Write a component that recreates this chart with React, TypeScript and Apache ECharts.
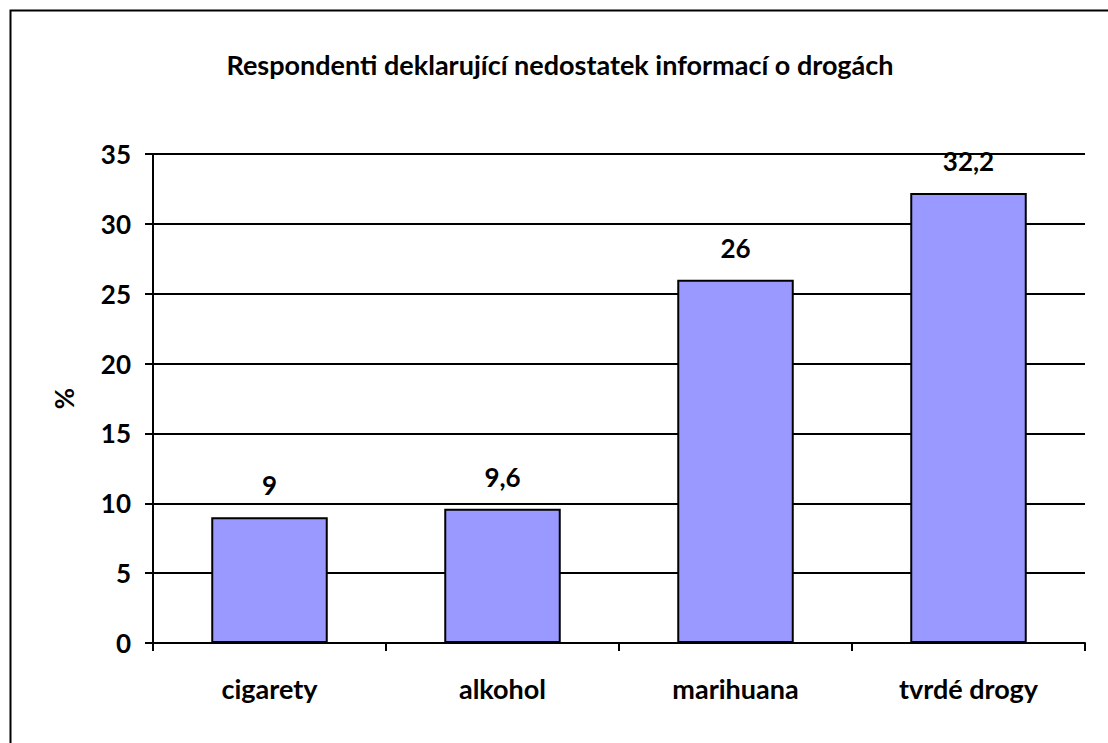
import React, { useEffect, useRef } from "react";
import * as echarts from "echarts";

const categories = ["cigarety", "alkohol", "marihuana", "tvrdé drogy"];
const values = [9, 9.6, 26, 32.2];
const titleText = "Respondenti deklarující nedostatek informací o drogách";
const yAxisName = "%";

const FONT = "Lato, 'Open Sans', sans-serif";

export default function App() {
  const ref = useRef<HTMLDivElement>(null);
  useEffect(() => {
    if (!ref.current) return;
    const chart = echarts.init(ref.current, undefined, { renderer: "svg" });
    chart.setOption({
      animation: false,
      backgroundColor: "#ffffff",
      title: {
        text: titleText,
        left: 555,
        top: 46,
        textAlign: "center",
        textStyle: { fontFamily: FONT, fontWeight: "bold", fontSize: 27, color: "#000" },
      },
      graphic: [
        {
          type: "rect",
          shape: { x: 10.5, y: 10.5, width: 1120, height: 760 },
          style: { fill: "none", stroke: "#000", lineWidth: 2 },
          silent: true,
        },
      ],
      grid: { left: 153, right: 23, top: 154, bottom: 100 },
      xAxis: {
        type: "category",
        data: categories,
        axisLine: { lineStyle: { color: "#000", width: 2 } },
        axisTick: { show: true, length: 8, lineStyle: { color: "#000", width: 2 } },
        axisLabel: {
          fontFamily: FONT,
          fontWeight: "bold",
          fontSize: 27,
          color: "#000",
          margin: 32,
        },
      },
      yAxis: {
        type: "value",
        min: 0,
        max: 35,
        interval: 5,
        name: yAxisName,
        nameLocation: "middle",
        nameGap: 76,
        nameRotate: 90,
        nameTextStyle: { fontFamily: FONT, fontWeight: "bold", fontSize: 26, color: "#000" },
        axisLine: { show: true, lineStyle: { color: "#000", width: 2 } },
        axisTick: { show: true, length: 8, lineStyle: { color: "#000", width: 2 } },
        axisLabel: {
          fontFamily: FONT,
          fontWeight: "bold",
          fontSize: 26,
          color: "#000",
          margin: 22,
        },
        splitLine: { show: true, lineStyle: { color: "#000", width: 2 } },
      },
      series: [
        {
          type: "bar",
          data: values,
          barWidth: "50%",
          itemStyle: { color: "#9999FF", borderColor: "#000", borderWidth: 2 },
          label: {
            show: true,
            position: "top",
            distance: 19,
            fontFamily: FONT,
            fontWeight: "bold",
            fontSize: 26,
            color: "#000",
            formatter: (p: any) => String(p.value).replace(".", ","),
          },
        },
      ],
    });
    return () => chart.dispose();
  }, []);
  return (
    <div
      ref={ref}
      style={{ position: "absolute", left: 0, top: 0, width: 1108, height: 743 }}
    />
  );
}
